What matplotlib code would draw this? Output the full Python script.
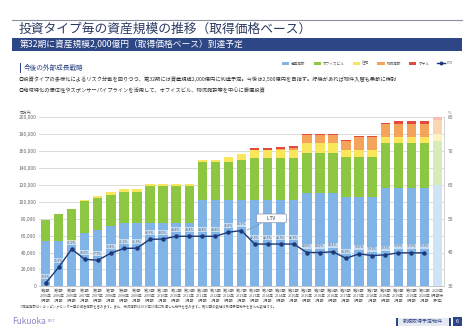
import numpy as np
import matplotlib
matplotlib.use('Agg')
import matplotlib.pyplot as plt
from matplotlib.patches import Rectangle, Patch
from matplotlib.lines import Line2D

plt.rcParams['font.family'] = ['Noto Sans CJK JP', 'DejaVu Sans']

# =============================================================================
# Data (百万円, 取得価格ベース)
# =============================================================================

period_labels = ['第2期\n2005年\n8月期', '第3期\n2006年\n2月期', '第4期\n2006年\n8月期', '第5期\n2007年\n2月期',
                 '第6期\n2007年\n8月期', '第7期\n2008年\n2月期', '第8期\n2008年\n8月期', '第9期\n2009年\n2月期',
                 '第10期\n2009年\n8月期', '第11期\n2010年\n2月期', '第12期\n2010年\n8月期', '第13期\n2011年\n2月期',
                 '第14期\n2011年\n8月期', '第15期\n2012年\n2月期', '第16期\n2012年\n8月期', '第17期\n2013年\n2月期',
                 '第18期\n2013年\n8月期', '第19期\n2014年\n2月期', '第20期\n2014年\n8月期', '第21期\n2015年\n2月期',
                 '第22期\n2015年\n8月期', '第23期\n2016年\n2月期', '第24期\n2016年\n8月期', '第25期\n2017年\n2月期',
                 '第26期\n2017年\n8月期', '第27期\n2018年\n2月期', '第28期\n2018年\n8月期', '第29期\n2019年\n2月期',
                 '第30期\n2019年\n8月期', '第31期\n2020年\n2月期', '2020年\n8月期末\n(予定)']

commercial = [54000, 54000, 54000, 62700, 67000, 71000, 74500, 74500, 74500, 74500, 74500, 74500,
              102000, 102000, 102000, 102000, 102000, 102000, 102000, 102000,
              110000, 110000, 110000, 105300, 105300, 105300, 116000, 116000, 116000, 116000, 120000]
office = [25000, 31000, 38000, 37800, 38000, 37000, 37500, 37500, 43800, 43800, 43800, 43800,
          44700, 44700, 44700, 47500, 49400, 49400, 49400, 49400,
          47300, 47300, 47300, 48000, 48000, 48000, 53300, 53300, 53300, 53300, 52000]
residential = [0, 0, 0, 1200, 2000, 3200, 3000, 3000, 2700, 2700, 2700, 2700,
               2800, 2800, 6700, 6500, 9900, 9900, 9900, 9900,
               11800, 11800, 11800, 7900, 7900, 7900, 7900, 7900, 7900, 7900, 8300]
logistics = [0, 0, 0, 0, 0, 0, 0, 0, 0, 0, 0, 0, 0, 0, 0, 0, 0, 0, 1200, 2700,
             9900, 9900, 9900, 10600, 15800, 15800, 14600, 14600, 14600, 14600, 16000]
hotel = [0, 0, 0, 0, 0, 0, 0, 0, 0, 0, 0, 0, 0, 0, 0, 0, 2000, 2000, 2000, 2000,
         1500, 1500, 1500, 1200, 1200, 1200, 1200, 4300, 4300, 4300, 3700]

ltv = [30.9, 35.6, 41.0, 38.0, 37.7, 39.8, 41.2, 41.3, 43.9, 44.0, 44.8, 44.8, 44.8, 44.8, 46.0,
       46.5, 42.5, 42.5, 42.5, 42.5, 40.0, 40.0, 40.2, 38.3, 39.6, 39.1, 39.3, 39.9, 39.9, 39.9]

series_names = ['商業施設', 'オフィスビル', '住宅', '物流施設', 'ホテル']
colors = ['#80b4e6', '#8dc641', '#f9e65a', '#f3a35a', '#e5493c']
colors_plan = ['#cfe2f6', '#d6ebb8', '#fcf3be', '#fad6b3', '#f6bfb4']

NAVY = '#2d4686'
W, H = 474, 335

def fx(x):
    return x / W

def fy(y):
    return 1 - y / H

# =============================================================================
# Figure
# =============================================================================

fig = plt.figure(figsize=(4.74, 3.35), dpi=100)
fig.patch.set_facecolor('white')

# header
fig.add_artist(Line2D([fx(12), fx(462)], [fy(19.5), fy(19.5)], color='#8a909c', lw=0.8))
fig.text(fx(19), fy(29.5), '投資タイプ毎の資産規模の推移（取得価格ベース）', fontsize=9.2,
         color='#2b3a64', va='center', ha='left')
fig.add_artist(Rectangle((fx(12), fy(50.7)), fx(450), (50.7 - 37.7) / H, color=NAVY, lw=0))
fig.text(fx(20), fy(44.2), '第32期に資産規模2,000億円（取得価格ベース）到達予定', fontsize=6.3,
         color='white', va='center', ha='left')

fig.add_artist(Rectangle((fx(19.5), fy(72.5)), fx(1.8), 9 / H, color=NAVY, lw=0))
fig.text(fx(24), fy(68), '今後の外部成長戦略', fontsize=4.8, color=NAVY, va='center', ha='left')
fig.text(fx(19), fy(79), '◎投資タイプの多様化によるリスク分散を図りつつ、第32期には資産規模2,000億円に到達予定。'
         '今後は2,500億円を目指す。好機があれば物件入替も柔軟に検討', fontsize=3.75, color='#333333',
         va='center', ha='left')
fig.text(fx(19), fy(89.5), '◎地域特化の優位性やスポンサーパイプラインを活用して、オフィスビル、物流施設等を中心に厳選投資',
         fontsize=3.75, color='#333333', va='center', ha='left')

# =============================================================================
# Chart
# =============================================================================

ax = fig.add_axes([fx(39), fy(286.3), fx(444 - 39), (286.3 - 117.3) / H])
x = np.arange(len(commercial))
n_act = len(ltv)

bottom = np.zeros(len(x))
for vals, c, cp in zip([commercial, office, residential, logistics, hotel], colors, colors_plan):
    vals = np.array(vals, dtype=float)
    cols = [c] * n_act + [cp] * (len(x) - n_act)
    ax.bar(x, vals, bottom=bottom, width=0.72, color=cols, linewidth=0, zorder=2)
    bottom += vals

ax.set_xlim(-0.5, len(x) - 0.5)
ax.set_ylim(0, 200000)
ax.set_yticks(np.arange(0, 200001, 20000))
ax.set_yticklabels([f'{v:,}' for v in range(0, 200001, 20000)], fontsize=3.5, color='#666666')
ax.yaxis.grid(True, color='#d4d4d4', lw=0.6, zorder=0)
ax.set_axisbelow(True)
ax.tick_params(axis='y', length=0, pad=2)
ax.set_xticks(x)
ax.set_xticklabels(period_labels, fontsize=2.7, color='#555555', linespacing=1.25)
ax.tick_params(axis='x', length=0, pad=2)
for s in ['top', 'left', 'right']:
    ax.spines[s].set_visible(False)
ax.spines['bottom'].set_color('#bbbbbb')
ax.spines['bottom'].set_linewidth(0.6)
ax.text(-0.02, 1.012, '百万円', transform=ax.transAxes, fontsize=2.8, color='#666666', ha='right', va='bottom')

ax2 = ax.twinx()
ax2.set_ylim(30, 80)
ax2.set_yticks([30, 40, 50, 60, 70, 80])
ax2.tick_params(axis='y', length=0, labelsize=3.5, labelcolor='#666666', pad=3)
for s in ['top', 'left', 'bottom']:
    ax2.spines[s].set_visible(False)
ax2.spines['right'].set_color('#cccccc')
ax2.spines['right'].set_linewidth(0.6)
ax2.text(1.01, 1.012, '%', transform=ax2.transAxes, fontsize=2.8, color='#666666', ha='left', va='bottom')

ax2.plot(x[:n_act], ltv, color='#1f3a7a', lw=1.0, marker='o', markersize=2.2, zorder=5)
for xi, v in zip(x[:n_act], ltv):
    ax2.annotate(f'{v:.1f}%', (xi, v), xytext=(0, 3.2), textcoords='offset points', ha='center',
                 va='bottom', fontsize=2.4, color='#4a5878',
                 bbox=dict(boxstyle='square,pad=0.15', fc='white', ec='none', alpha=0.55))

ax2.annotate('         LTV         ', xy=(15.4, 46.6), xytext=(17.3, 50.1), fontsize=3.4, color='#333333',
             ha='center', va='center',
             bbox=dict(boxstyle='round,pad=0.4,rounding_size=0.3', fc='white', ec='#8090b0', lw=0.5),
             arrowprops=dict(arrowstyle='-', color='#8090b0', lw=0.5, shrinkA=0, shrinkB=0), zorder=6)

# legend
handles = [Patch(facecolor=c, edgecolor='none') for c in colors]
handles.append(Line2D([0], [0], color='#1f3a7a', lw=1.0, marker='o', markersize=1.8))
fig.legend(handles, series_names + ['LTV'], loc='center right', bbox_to_anchor=(fx(456), fy(63.3)),
           ncol=6, fontsize=2.6, frameon=False, handlelength=2.0, handleheight=1.0, columnspacing=2.3,
           handletextpad=0.5, labelcolor='#555555')

# footnote
fig.text(fx(20), fy(307.5), '※商業施設はショッピングセンター等の複合施設を含みます。また、物流施設は2017年以降に取得した物件を含みます。'
         '第32期の数値は取得予定物件を含んだ数値です。', fontsize=2.4, color='#555555', va='center', ha='left')

# footer
fig.text(fx(12), fy(321), 'Fukuoka', fontsize=6.0, color='#8b86c6', va='center', ha='left')
fig.text(fx(47.5), fy(321.5), 'REIT', fontsize=2.6, color='#8b86c6', va='center', ha='left')
fig.add_artist(Rectangle((fx(396), fy(325.5)), fx(55), 8 / H, color='#e6e8f2', lw=0))
fig.add_artist(Rectangle((fx(396), fy(325.5)), fx(1.6), 8 / H, color=NAVY, lw=0))
fig.add_artist(Rectangle((fx(449.4), fy(325.5)), fx(1.6), 8 / H, color=NAVY, lw=0))
fig.text(fx(423), fy(321.5), '新規取得予定物件', fontsize=3.6, color=NAVY, va='center', ha='center')
fig.add_artist(Rectangle((fx(453), fy(326)), fx(9), 9 / H, color=NAVY, lw=0))
fig.text(fx(457.5), fy(321.5), '6', fontsize=4, color='white', va='center', ha='center')

plt.savefig('out.png', dpi=100)
